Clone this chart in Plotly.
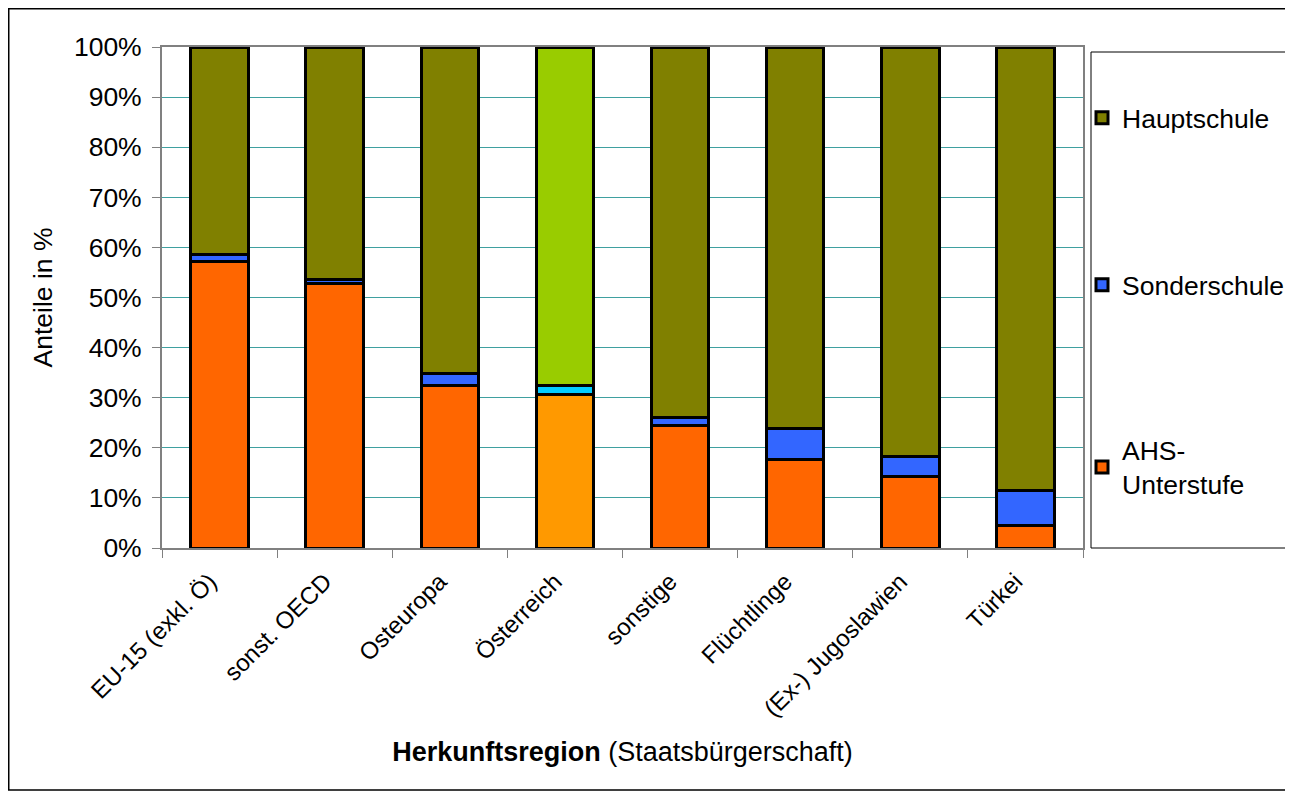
import plotly.graph_objects as go

categories = ["EU-15 (exkl. Ö)", "sonst. OECD", "Osteuropa", "Österreich",
              "sonstige", "Flüchtlinge", "(Ex-) Jugoslawien", "Türkei"]
ahs = [57.1, 52.7, 32.5, 30.7, 24.4, 17.6, 14.2, 4.4]
sonder = [1.4, 0.8, 2.4, 1.8, 1.7, 6.2, 4.0, 7.0]
haupt = [41.5, 46.5, 65.1, 67.5, 73.9, 76.2, 81.8, 88.6]
tick_vals = [0, 10, 20, 30, 40, 50, 60, 70, 80, 90, 100]
tick_text = ["0%", "10%", "20%", "30%", "40%", "50%", "60%", "70%", "80%", "90%", "100%"]

c_ahs = ["#FF6600"] * 8
c_ahs[3] = "#FF9900"
c_son = ["#3366FF"] * 8
c_son[3] = "#00CCFF"
c_hau = ["#808000"] * 8
c_hau[3] = "#99CC00"

FONT = "Arial, Liberation Sans, sans-serif"
FS = 26.5
fig = go.Figure()
line = dict(color="black", width=3)
fig.add_trace(go.Bar(x=categories, y=ahs, name="AHS-<br>Unterstufe", legend="legend3",
                     marker=dict(color=c_ahs, line=line), width=0.5))
fig.add_trace(go.Bar(x=categories, y=sonder, name="Sonderschule", legend="legend2",
                     marker=dict(color=c_son, line=line), width=0.5))
fig.add_trace(go.Bar(x=categories, y=haupt, name="Hauptschule", legend="legend",
                     marker=dict(color=c_hau, line=line), width=0.5))

# page offset of the figure (default body margin)
OFF = 8
L, R, T, B = 162, 1083, 47, 548          # plot area in screen pixels
W, H = 1293 - OFF, 796 - OFF             # figure size
def px(x): return (x - L) / (R - L)
def py(y): return (B - y) / (B - T)

leg_common = dict(font=dict(size=FS, family=FONT, color="black"), bgcolor="rgba(0,0,0,0)",
                  xanchor="left", yanchor="middle", x=px(1082), itemwidth=30)
fig.update_layout(
    autosize=False,
    barmode="stack",
    width=W, height=H,
    margin=dict(l=L - OFF, r=W - (R - OFF), t=T - OFF, b=H - (B - OFF), autoexpand=False),
    paper_bgcolor="white", plot_bgcolor="white",
    font=dict(family=FONT, size=FS, color="black"),
    legend=dict(**leg_common, y=py(118)),
    legend2=dict(**leg_common, y=py(285)),
    legend3=dict(**leg_common, y=py(467)),
    showlegend=True,
    xaxis=dict(
        tickangle=-45, tickson="boundaries", ticks="outside", ticklen=8, tickcolor="#808080",
        showline=True, linecolor="#808080", linewidth=2, mirror=True, automargin=False,
        tickfont=dict(size=24, family=FONT), ticklabelstandoff=8, ticklabelshift=-10,
        title=dict(text="<b>Herkunftsregion</b> (Staatsbürgerschaft)",
                   font=dict(size=27, family=FONT), standoff=21),
    ),
    yaxis=dict(
        range=[0, 100], tickvals=tick_vals, ticktext=tick_text, automargin=False,
        ticks="outside", ticklen=8, tickcolor="#808080",
        showline=True, linecolor="#808080", linewidth=2, mirror=True,
        showgrid=True, gridcolor="#3FA0A0", gridwidth=1,
        tickfont=dict(size=FS, family=FONT), ticklabelstandoff=5,
        title=dict(text="Anteile in %", font=dict(size=FS, family=FONT), standoff=14),
    ),
    shapes=[
        dict(type="rect", xref="paper", yref="paper", x0=px(1091), x1=px(1310),
             y0=py(548), y1=py(52), line=dict(color="black", width=1)),
        dict(type="rect", xref="paper", yref="paper", x0=px(OFF + 0.75), x1=px(1290),
             y0=py(790), y1=py(OFF + 0.75), line=dict(color="black", width=1.5)),
    ],
)

fig.write_html("out.html", config={"responsive": False, "displayModeBar": False})
